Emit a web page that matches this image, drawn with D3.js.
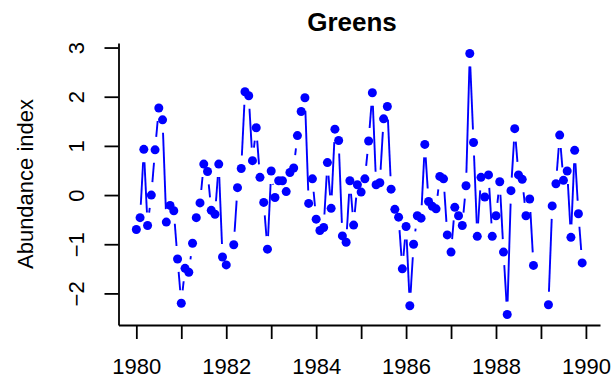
<!DOCTYPE html>
<html>
<head>
<meta charset="utf-8">
<script src="https://cdn.jsdelivr.net/npm/d3@7"></script>
<style>
  body { margin: 0; background: #fff; }
  svg text { font-family: "Liberation Sans", Arial, Helvetica, sans-serif; fill: #000; }
</style>
</head>
<body>
<div id="chart"></div>
<script>
// monthly series, starts Jan 1980, null = missing month
const startYear = 1980;
const frequency = 12;
const abundance = [
  -0.70, -0.46, 0.93, -0.62, 0.00, 0.92, 1.77, 1.53, -0.55, -0.21, -0.32, -1.30,
  -2.20, -1.49, -1.57, -0.98, -0.46, -0.16, 0.63, 0.48, -0.31, -0.39, 0.63, -1.26,
  -1.42, null, -1.01, 0.15, 0.54, 2.10, 2.02, 0.70, 1.37, 0.36, -0.15, -1.10,
  0.49, -0.05, 0.29, 0.29, 0.07, 0.46, 0.55, 1.21, 1.70, 1.98, -0.17, 0.33,
  -0.49, -0.72, -0.66, 0.66, -0.27, 1.34, 1.11, -0.83, -0.96, 0.29, -0.61, 0.21,
  0.06, 0.33, 1.10, 2.08, 0.21, 0.25, 1.55, 1.80, 0.12, -0.29, -0.45, -1.50,
  -0.64, -2.25, -1.00, -0.42, -0.47, 1.03, -0.13, -0.23, -0.28, 0.38, 0.33, -0.81,
  -1.16, -0.25, -0.42, -0.62, 0.19, 2.88, 1.07, -0.84, 0.36, -0.04, 0.41, -0.84,
  -0.42, 0.27, -1.16, -2.43, 0.09, 1.35, 0.41, 0.32, -0.42, -0.08, -1.43, null,
  null, null, -2.23, -0.22, 0.23, 1.22, 0.30, 0.49, -0.86, 0.91, -0.38, -1.38
];
const xTicks = [1980, 1981, 1982, 1983, 1984, 1985, 1986, 1987, 1988, 1989, 1990];
const xLabels = [1980, 1982, 1984, 1986, 1988, 1990];
const yTicks = [-2, -1, 0, 1, 2, 3];
const title = 'Greens';
const yTitle = 'Abundance index';

const width = 615, height = 383;
const margin = { top: 43, right: 15, bottom: 58, left: 118.5 };
const gap = 13;       // type = "b" gap around each point
const radius = 4.5;

const series = abundance.map((v, i) => ({ t: startYear + i / frequency, v: v }));

// R style 4% padding on both scales
function pad(ext) {
  const d = (ext[1] - ext[0]) * 0.04;
  return [ext[0] - d, ext[1] + d];
}

const svg = d3.select('#chart').append('svg')
  .attr('width', width)
  .attr('height', height);

const x = d3.scaleLinear()
  .domain(pad(d3.extent(series, d => d.t)))
  .range([margin.left, width - margin.right]);

const y = d3.scaleLinear()
  .domain(pad(d3.extent(series.filter(d => d.v !== null), d => d.v)))
  .range([height - margin.bottom, margin.top]);

// axes
const xAxis = d3.axisBottom(x)
  .tickValues(xTicks)
  .tickSizeInner(14)
  .tickSizeOuter(0)
  .tickPadding(19)
  .tickFormat(d => xLabels.includes(d) ? d : '');

const yAxis = d3.axisLeft(y)
  .tickValues(yTicks)
  .tickSizeInner(14)
  .tickSizeOuter(0)
  .tickFormat(d => d < 0 ? '\u2212' + Math.abs(d) : d);

const gx = svg.append('g')
  .attr('transform', `translate(0,${height - margin.bottom})`)
  .call(xAxis);

const gy = svg.append('g')
  .attr('transform', `translate(${margin.left},0)`)
  .call(yAxis);

[gx, gy].forEach(g => {
  g.selectAll('path, line').attr('stroke', '#000').attr('stroke-width', 1.8);
  g.selectAll('text').style('font-size', '22px').attr('font-family', null);
});

// y labels parallel to the axis
gy.selectAll('.tick text')
  .attr('transform', 'rotate(-90)')
  .attr('x', 0)
  .attr('y', -35)
  .attr('dy', 0)
  .style('text-anchor', 'middle');

// lines between points, cut back near each point
const segs = [];
for (let i = 1; i < series.length; i++) {
  const a = series[i - 1], b = series[i];
  if (a.v === null || b.v === null) continue;
  const x0 = x(a.t), y0 = y(a.v), x1 = x(b.t), y1 = y(b.v);
  const d = Math.hypot(x1 - x0, y1 - y0);
  if (d <= 2 * gap) continue;
  const ux = (x1 - x0) / d, uy = (y1 - y0) / d;
  segs.push([x0 + ux * gap, y0 + uy * gap, x1 - ux * gap, y1 - uy * gap]);
}

svg.append('g').selectAll('line')
  .data(segs)
  .enter()
  .append('line')
  .attr('x1', d => d[0])
  .attr('y1', d => d[1])
  .attr('x2', d => d[2])
  .attr('y2', d => d[3])
  .attr('stroke', '#0000FF')
  .attr('stroke-width', 1.9);

svg.append('g').selectAll('circle')
  .data(series.filter(d => d.v !== null))
  .enter()
  .append('circle')
  .attr('cx', d => x(d.t))
  .attr('cy', d => y(d.v))
  .attr('r', radius)
  .attr('fill', '#0000FF');

// titles
svg.append('text')
  .attr('x', 352)
  .attr('y', 31)
  .attr('text-anchor', 'middle')
  .style('font-size', '26px')
  .style('font-weight', 'bold')
  .text(title);

svg.append('text')
  .attr('transform', `translate(33,${(margin.top + height - margin.bottom) / 2}) rotate(-90)`)
  .attr('text-anchor', 'middle')
  .style('font-size', '22px')
  .text(yTitle);
</script>
</body>
</html>
